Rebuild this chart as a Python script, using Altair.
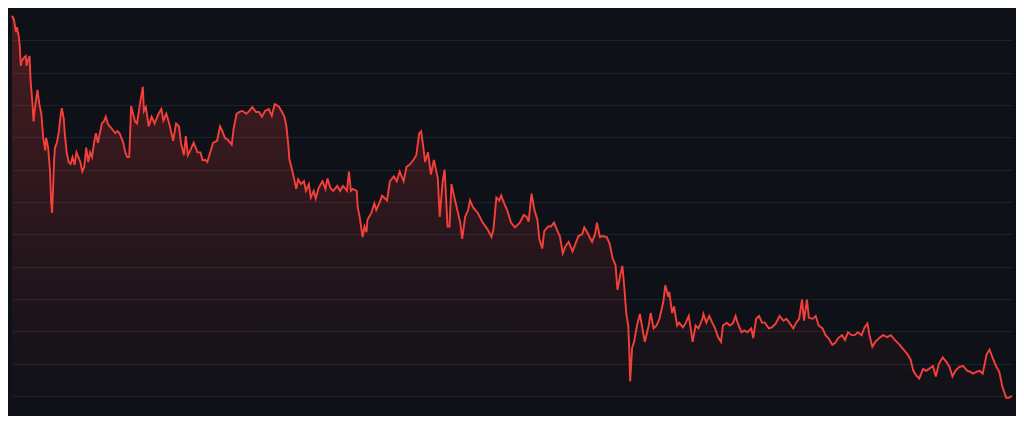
import altair as alt
import pandas as pd

# time index (sessions) and price level
t = [0,2,4,5,7,8,9,10,12,14,15,16,18,19,21,22,24,26,28,30,32,34,35,37,39,40,41,42,43,44,46,48,50,51,53,54,56,58,60,62,64,66,68,70,72,74,76,78,80,82,84,86,88,90,92,94,96,98,100,102,104,106,108,110,112,114,116,118,120,121,122,124,126,
     128,131,134,135,137,140,143,146,150,153,155,158,161,165,168,171,173,176,178,180,183,186,190,193,195,198,200,203,206,210,213,215,218,221,225,227,230,233,236,240,243,246,250,253,
     256,259,263,266,269,273,276,279,281,283,284,286,289,291,293,296,299,301,304,306,309,311,314,318,321,323,326,329,333,336,339,343,345,347,349,353,354,356,359,361,363,364,368,371,373,376,379,
     384,387,391,394,397,401,404,407,411,414,417,419,421,423,426,429,432,436,438,441,443,446,448,450,453,456,459,461,464,467,469,472,477,482,487,491,493,496,499,501,504,507,511,
     515,520,524,527,529,532,535,538,540,543,545,549,552,555,559,561,564,567,570,574,577,580,584,586,589,594,597,599,602,605,609,612,615,618,620,623,625,627,629,631,632,633,635,637,
     640,643,645,648,652,654,657,660,663,667,669,672,673,676,678,681,683,687,690,693,695,697,700,703,707,708,711,714,717,720,723,726,728,732,735,738,741,743,747,750,753,757,759,762,765,
     768,771,775,778,782,786,790,793,796,800,803,806,809,811,814,816,820,823,826,830,833,836,840,843,846,850,853,856,860,863,866,870,873,876,878,881,884,888,892,
     896,900,904,909,913,917,920,923,926,929,933,936,939,943,946,949,953,957,960,963,966,970,974,978,981,984,988,991,994,998,1001,1004,1008,1011,1014,1018,1021,1024]

price = [416,412,399,404,394,384,364,369,372,374,364,369,374,349,324,306,324,339,324,314,289,276,289,279,254,224,211,234,264,279,284,296,314,320,309,294,274,264,262,269,261,274,269,264,254,259,279,264,274,269,284,294,284,294,304,306,311,304,301,299,296,294,296,294,289,284,274,269,269,294,322,314,306,
         304,324,342,317,321,301,311,304,314,319,307,314,304,286,304,301,284,271,291,271,277,284,274,274,266,266,264,274,284,286,301,297,289,287,282,299,314,316,317,314,317,321,316,316,
         311,317,319,312,324,322,317,311,301,281,267,259,246,236,246,241,244,234,241,227,234,226,237,244,236,247,237,234,239,234,239,234,254,234,236,234,217,207,186,197,191,204,211,221,214,221,229,
         224,244,249,244,254,244,259,261,266,271,294,296,281,264,274,251,266,247,207,244,256,197,197,241,227,214,201,184,207,214,224,217,211,201,194,186,194,227,224,229,221,214,201,
         196,201,209,207,202,231,214,204,184,174,192,197,197,201,191,187,169,177,181,171,179,187,189,196,191,181,189,201,186,187,186,179,164,157,131,147,156,134,107,94,71,36,71,77,
         94,106,94,77,94,107,91,94,101,119,136,124,129,107,114,94,97,92,97,104,91,77,94,91,101,106,97,104,97,91,82,77,94,97,94,96,104,97,87,89,87,91,81,101,104,
         97,97,91,92,96,104,99,101,97,91,97,101,121,99,121,102,101,104,94,91,84,81,74,76,81,84,79,87,84,84,87,84,92,96,84,72,77,81,84,
         82,84,79,74,69,64,59,47,42,39,49,47,49,52,41,54,61,56,51,41,47,51,52,47,46,44,46,47,44,64,69,61,51,46,31,19,19,21]

grid_levels = [390.4, 356.8, 323.2, 289.6, 256, 222.4, 188.8, 155.2, 121.6, 88, 54.4, 20.8]

df = pd.DataFrame({"t": t, "price": price})

BG = "#0e1118"

chart = (
    alt.Chart(df)
    .mark_area(
        line={"color": "#f5403a", "strokeWidth": 1.9},
        interpolate="linear",
        color=alt.Gradient(
            gradient="linear",
            stops=[
                alt.GradientStop(color="rgba(242,63,58,0.36)", offset=0),
                alt.GradientStop(color="rgba(242,63,58,0.0)", offset=1),
            ],
            x1=1, x2=1, y1=0, y2=1,
        ),
    )
    .encode(
        x=alt.X("t:Q", axis=None, scale=alt.Scale(domain=[0, 1024], nice=False, zero=False)),
        y=alt.Y(
            "price:Q",
            scale=alt.Scale(domain=[0, 424], nice=False, zero=True),
            axis=alt.Axis(
                values=grid_levels, labels=False, ticks=False, domain=False,
                grid=True, gridColor="#1c222d", gridWidth=1, title=None,
            ),
        ),
    )
    .properties(
        width=1008, height=408,
        background=BG,
        padding=0,
        autosize=alt.AutoSizeParams(type="fit", contains="padding"),
    )
    .configure_view(stroke=None, fill=BG)
)

chart.save("out.html", embed_options={"renderer": "svg", "actions": False})
